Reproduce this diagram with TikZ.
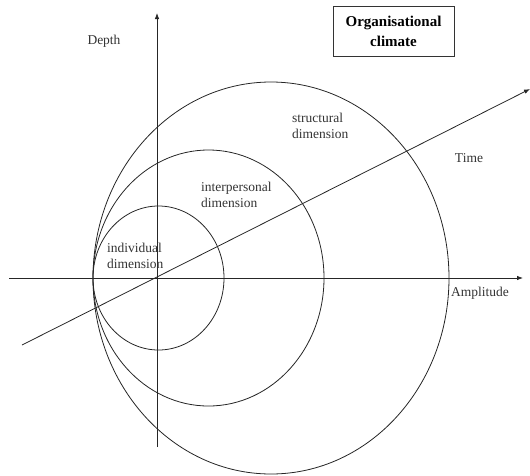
\documentclass[tikz,border=0pt]{standalone}
\usepackage{fontspec}
\setmainfont{Liberation Serif}
\usetikzlibrary{arrows.meta}

\begin{document}
\begin{tikzpicture}[
        x=1pt, y=-1pt,
        axis/.style={draw=black!85, line width=0.8pt, -{Latex[length=6pt,width=4.5pt]}},
        ring/.style={draw=black!85, line width=0.8pt},
        every node/.append style={inner sep=0pt, font=\fontsize{13.5}{16.5}\selectfont, text=black!80}
    ]
        \useasboundingbox (0,0) rectangle (530,475);
        % axes
        \coordinate (hL) at (9,278);
        \coordinate (hR) at (523,278);
        \coordinate (vB) at (157,447);
        \coordinate (vT) at (157,13);
        \coordinate (tL) at (22,345);
        \coordinate (tR) at (530,89);
        \draw[axis] (hL) -- (hR);
        \draw[axis] (vB) -- (vT);
        \draw[axis] (tL) -- (tR);
        % the three dimensions
        \coordinate (cS) at (158.5,278);
        \coordinate (cM) at (208.5,278);
        \coordinate (cL) at (271,278);
        \draw[ring] (cS) ellipse [x radius=65.5pt, y radius=72pt];
        \draw[ring] (cM) ellipse [x radius=115.5pt, y radius=128pt];
        \draw[ring] (cL) ellipse [x radius=178pt, y radius=196pt];
        % labels
        \node (depth) at (104,41) {Depth};
        \node (time) at (469,158) {Time};
        \node[anchor=west] (amp) at (451,293) {Amplitude};
        \node[anchor=west, align=left] (ind) at (107,256) {individual\\dimension};
        \node[anchor=west, align=left] (inter) at (201,195) {interpersonal\\dimension};
        \node[anchor=west, align=left] (struc) at (292,126) {structural\\dimension};
        \node[draw=black!80, line width=0.8pt, minimum width=121pt, minimum height=50pt, align=center,
              font=\fontsize{15}{20}\selectfont\bfseries, text=black] (title) at (393.5,31) {Organisational\\climate};
    \end{tikzpicture}
\end{document}
